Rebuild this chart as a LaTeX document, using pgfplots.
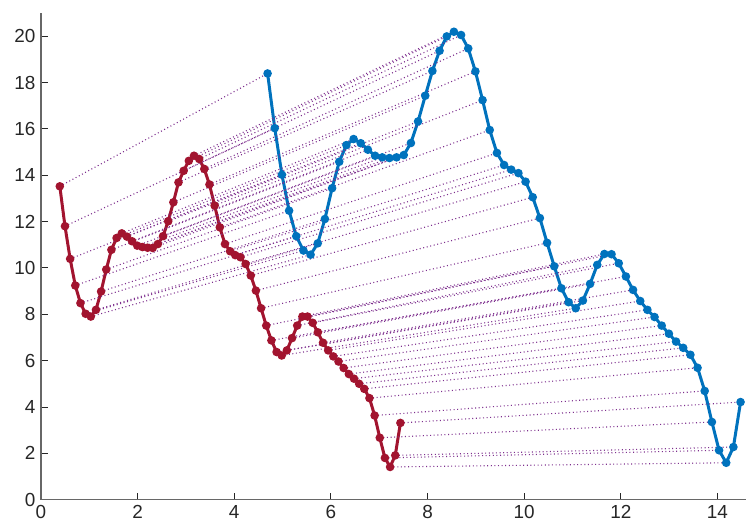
\documentclass[border=0pt]{standalone}
\usepackage{pgfplots}
\usepackage{pgfplotstable}
\usepackage{fontspec}
\setmainfont{Liberation Sans}
\pgfplotsset{compat=1.18}

\definecolor{sigA}{rgb}{0.635,0.078,0.184}
\definecolor{sigB}{rgb}{0,0.447,0.741}
\definecolor{warp}{rgb}{0.494,0.184,0.556}
\definecolor{axisgray}{rgb}{0.15,0.15,0.15}

% xr,yr: first signal; xb,yb: second signal; row k pairs sample k of each
\pgfplotstableread{
xr     yr     xb      yb
0.390  13.52  4.690   18.39
0.497  11.80  4.838   16.03
0.604  10.39  4.987   14.02
0.710  9.24   5.135   12.47
0.817  8.48   5.283   11.37
0.924  8.02   5.432   10.75
1.031  7.90   5.580   10.57
1.138  8.19   5.728   11.06
1.244  8.98   5.876   12.11
1.351  9.93   6.025   13.44
1.458  10.78  6.173   14.58
1.565  11.29  6.321   15.30
1.672  11.49  6.470   15.56
1.778  11.35  6.618   15.38
1.885  11.15  6.766   15.10
1.992  10.96  6.915   14.84
2.099  10.90  7.063   14.77
2.206  10.87  7.211   14.74
2.312  10.86  7.359   14.77
2.419  11.03  7.508   14.87
2.526  11.37  7.656   15.39
2.633  12.01  7.804   16.32
2.740  12.83  7.953   17.43
2.846  13.69  8.101   18.50
2.953  14.19  8.249   19.37
3.060  14.62  8.398   19.99
3.167  14.84  8.546   20.19
3.274  14.70  8.694   20.05
3.380  14.27  8.842   19.47
3.487  13.60  8.991   18.48
3.594  12.69  9.139   17.24
3.701  11.75  9.287   15.95
3.808  11.03  9.436   14.96
3.914  10.72  9.584   14.44
4.021  10.55  9.732   14.24
4.128  10.46  9.881   14.09
4.235  10.17  10.029  13.72
4.342  9.67   10.177  13.05
4.448  9.02   10.325  12.15
4.555  8.26   10.474  11.08
4.662  7.51   10.622  10.07
4.769  6.87   10.770  9.12
4.876  6.37   10.919  8.52
4.982  6.22   11.067  8.26
5.089  6.44   11.215  8.59
5.196  6.97   11.364  9.31
5.303  7.51   11.512  10.13
5.410  7.90   11.660  10.60
5.516  7.90   11.808  10.59
5.623  7.63   11.957  10.20
5.730  7.22   12.105  9.63
5.837  6.77   12.253  9.05
5.944  6.44   12.402  8.57
6.050  6.18   12.550  8.19
6.157  5.96   12.698  7.88
6.264  5.68   12.846  7.51
6.371  5.42   12.995  7.16
6.478  5.22   13.143  6.82
6.584  5.00   13.291  6.55
6.691  4.78   13.440  6.25
6.798  4.38   13.588  5.69
6.905  3.63   13.736  4.69
7.012  2.67   13.885  3.35
7.118  1.80   14.033  2.13
7.225  1.41   14.181  1.59
7.332  1.91   14.330  2.27
7.439  3.31   14.478  4.21
}\signals

\begin{document}
\begin{tikzpicture}
\begin{axis}[
  scale only axis,
  width=706bp, height=487bp,
  xmin=0, xmax=14.6, ymin=0, ymax=21,
  axis x line*=bottom, axis y line*=left,
  axis line style={draw=axisgray!70, line width=1.1bp},
  tick align=inside,
  major tick length=7bp,
  tick style={draw=axisgray, line width=0.8bp},
  xtick={0,2,...,14}, ytick={0,2,...,20},
  minor tick num=0,
  /pgf/number format/assume math mode=true,
  tick label style={font=\fontsize{19}{22}\selectfont, text=axisgray},
  xticklabel shift=2bp,
  yticklabel shift=2bp,
  clip=false,
]
\addplot[sigA, line width=3bp, mark=*, mark size=2.7bp,
  mark options={fill=sigA, draw=sigA}]
  table[x=xr, y=yr] {\signals};
\addplot[sigB, line width=3bp, mark=*, mark size=2.7bp,
  mark options={fill=sigB, draw=sigB}]
  table[x=xb, y=yb] {\signals};
% alignment links between paired samples
\addplot[warp, line width=1.1bp, dash pattern=on 1bp off 2.6bp,
  no markers,
  quiver={u=\thisrow{xb}-\thisrow{xr}, v=\thisrow{yb}-\thisrow{yr}}]
  table[x=xr, y=yr] {\signals};
\end{axis}
\path ([xshift=-41bp,yshift=13bp]current axis.north west);
\end{tikzpicture}
\end{document}
